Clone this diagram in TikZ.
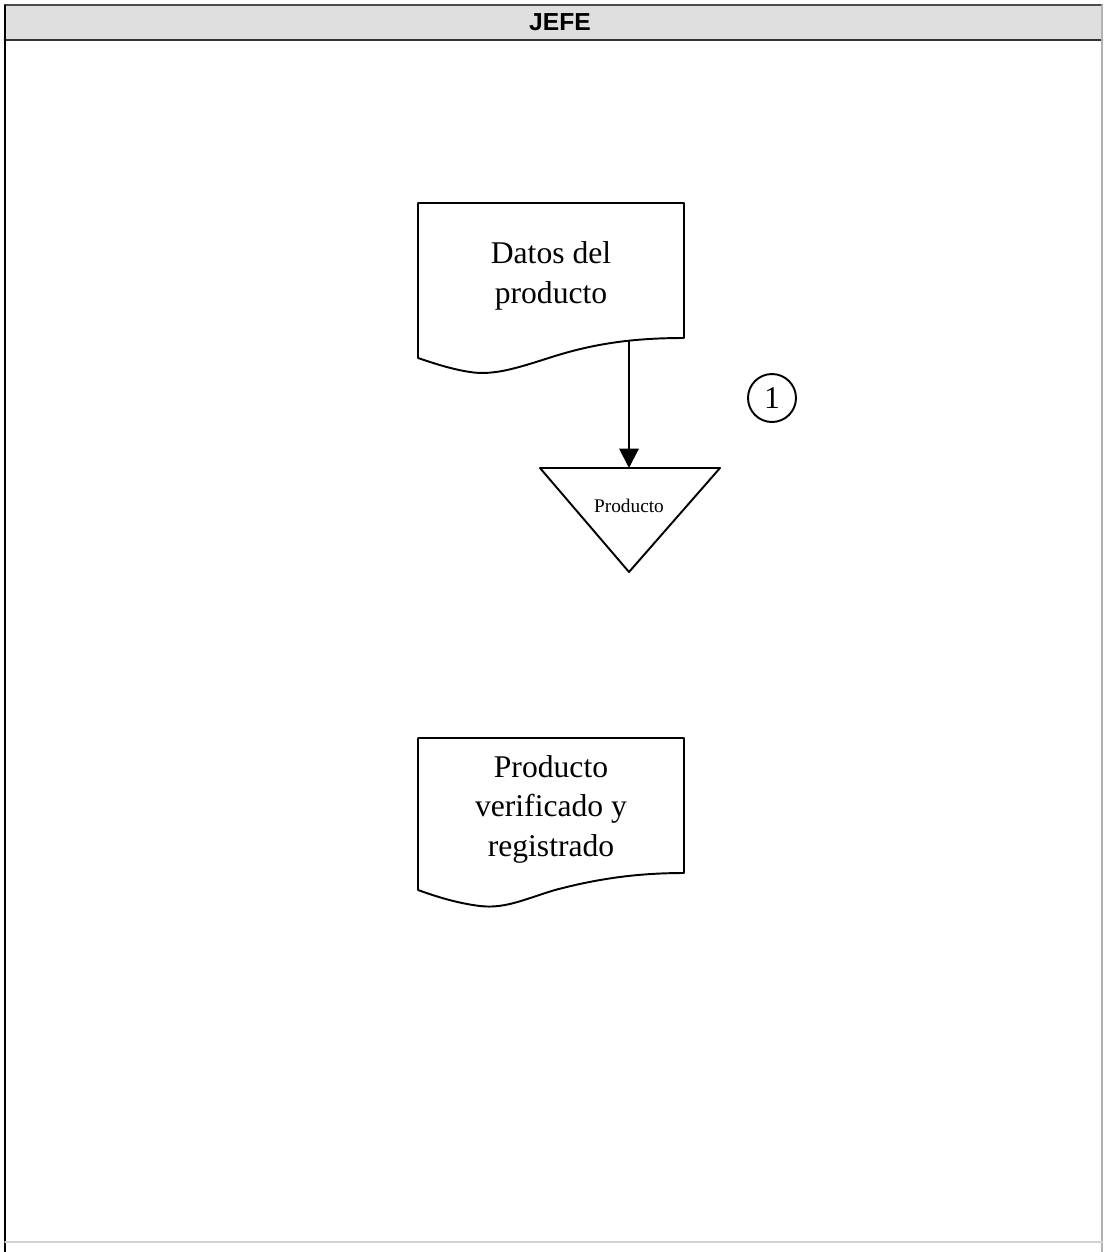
\documentclass[tikz,border=0pt]{standalone}
\usepackage{fontspec}
\setmainfont{Liberation Serif}
\newfontfamily\headfont{Liberation Sans}
\usetikzlibrary{arrows.meta}
\tikzset{
  doctext/.style={align=center,font=\fontsize{18}{22.5}\selectfont},
  docline/.style={line width=1.1pt},
}
\begin{document}
\begin{tikzpicture}[line cap=round,line join=round,>={Triangle[width=11pt,length=11pt]},x=0.02cm,y=-0.02cm]
	\useasboundingbox (0,0) rectangle (1104,1252);
	% frame and header
	\fill[color=gray!25] (5,5) rectangle (1102,40);
	\draw[line width=1pt, color=black!70] (5,5)-- (1102,5);
	\draw[line width=1.6pt, color=black!80] (5,40)-- (1102,40);
	\draw[line width=1pt] (5,5)-- (5,1252);
	\draw[line width=0.8pt, color=gray!60] (1102,5)-- (1102,1252);
	\draw[line width=0.8pt, color=gray!35] (5,1242)-- (1102,1242);
	\node[font=\headfont\bfseries\fontsize{14}{16}\selectfont] (jefe) at (560,22) {JEFE};
	% documento 1
	\draw[docline] (418,358)-- (418,203)-- (684,203)-- (684,338) .. controls (640,338) and (600,342) .. (555,356) .. controls (520,367) and (495,376) .. (470,372) .. controls (450,369) and (430,362) .. (418,358);
	\node[doctext] (datos) at (551,276) {Datos del\\producto};
	\coordinate (datosbot) at (629,341);
	% almacen
	\draw[docline] (540,468)-- (720,468)-- (629,572)-- cycle;
	\coordinate (prodtop) at (629,468);
	\node[font=\fontsize{11}{13}\selectfont] (prod) at (629,506) {Producto};
	\draw[docline,->] (datosbot)-- (prodtop);
	% conector
	\node[draw,docline,circle,minimum size=48*0.02cm,inner sep=0pt,font=\fontsize{18}{20}\selectfont] (uno) at (772,398) {1};
	% documento 2
	\draw[docline] (418,890)-- (418,738)-- (684,738)-- (684,873) .. controls (640,873) and (600,878) .. (555,890) .. controls (525,899) and (505,909) .. (480,906) .. controls (455,903) and (432,895) .. (418,890);
	\node[doctext] (verif) at (551,809) {Producto\\verificado y\\registrado};
\end{tikzpicture}
\end{document}
